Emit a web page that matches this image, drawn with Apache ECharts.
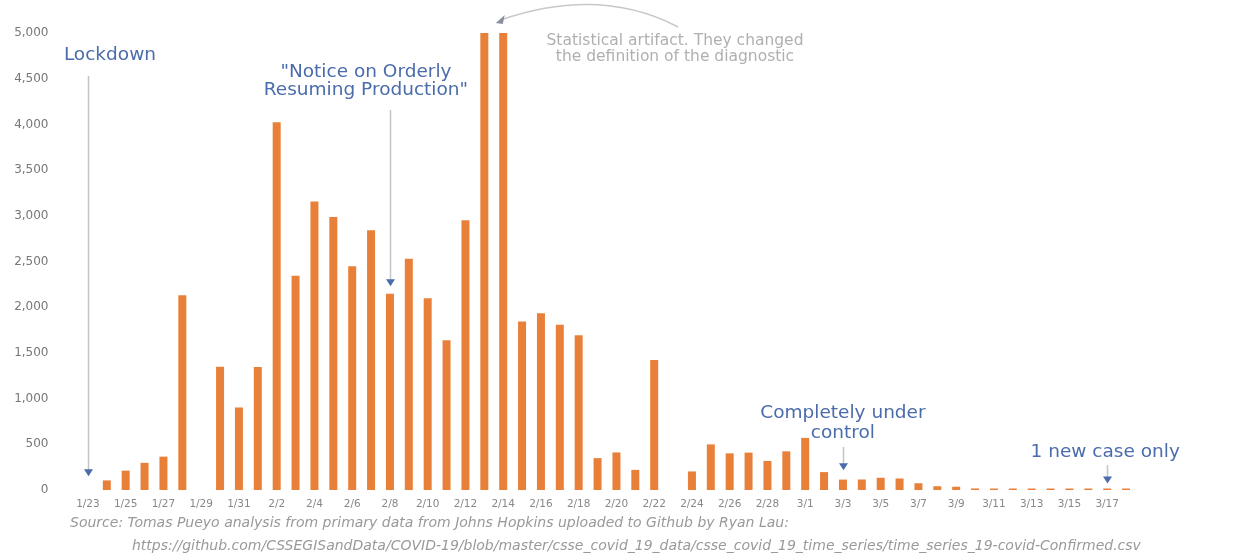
<!DOCTYPE html>
<html>
<head>
<meta charset="utf-8">
<script src="https://cdn.jsdelivr.net/npm/echarts@6/dist/echarts.min.js"></script>
<style>
html,body{margin:0;padding:0;background:#fff;}
#chart{width:1250px;height:560px;}
</style>
</head>
<body>
<div id="chart"></div>
<script>
// Daily new confirmed cases (Hubei), 1/23 .. 3/18
var categories = ['1/23','1/24','1/25','1/26','1/27','1/28','1/29','1/30','1/31',
  '2/1','2/2','2/3','2/4','2/5','2/6','2/7','2/8','2/9','2/10','2/11','2/12','2/13','2/14',
  '2/15','2/16','2/17','2/18','2/19','2/20','2/21','2/22','2/23','2/24','2/25','2/26','2/27','2/28','2/29',
  '3/1','3/2','3/3','3/4','3/5','3/6','3/7','3/8','3/9','3/10','3/11','3/12','3/13','3/14','3/15','3/16','3/17','3/18'];
var newCases = [0,105,212,297,365,2131,0,1349,903,
  1347,4024,2345,3156,2987,2447,2841,2147,2531,2097,1638,2950,5000,5000,
  1843,1933,1807,1693,349,411,220,1422,0,203,499,401,409,318,423,
  570,196,114,115,134,126,74,41,36,17,13,8,5,4,4,4,1,1];
var yTicks = [0,500,1000,1500,2000,2500,3000,3500,4000,4500,5000];

var chart = echarts.init(document.getElementById('chart'), null, {renderer:'canvas'});
var FONT = 'DejaVu Sans';
var BLUE = '#4a6cab';
var ARROW_LINE = '#c4c4c4';

var option = {
  animation: false,
  backgroundColor: '#fff',
  grid: {left: 78.5, right: 114.5, top: 33, bottom: 70, containLabel: false},
  xAxis: {
    type: 'category',
    data: categories,
    axisLine: {show: false},
    axisTick: {show: false},
    axisLabel: {interval: 1, color: '#888', fontSize: 10.5, fontFamily: FONT, margin: 9}
  },
  yAxis: {
    type: 'value',
    min: yTicks[0], max: yTicks[yTicks.length-1], interval: yTicks[1]-yTicks[0],
    splitLine: {show: false},
    axisLine: {show: false},
    axisTick: {show: false},
    axisLabel: {color: '#777', fontSize: 12, fontFamily: FONT, margin: 30,
      formatter: function(v){ return v.toLocaleString('en-US'); }}
  },
  series: [{
    type: 'bar',
    data: newCases.map(function(v){ return v === 0 ? '-' : v; }),
    barWidth: 8,
    barMinHeight: 1.5,
    itemStyle: {color: '#e8803a'}
  }]
};
chart.setOption(option);

function px(cat, val){ return chart.convertToPixel({gridIndex:0}, [cat, val]); }

function downArrow(cat, yTop, tipVal){
  var tip = px(cat, tipVal);
  var x = Math.round(tip[0]) + 0.5;
  return [
    {type:'line', shape:{x1:x, y1:yTop, x2:x, y2:tip[1]-4}, style:{stroke:ARROW_LINE, lineWidth:1.5}, z:10},
    {type:'polygon', shape:{points:[[x-4.5, tip[1]-7],[x+4.5, tip[1]-7],[x, tip[1]]]}, style:{fill:BLUE}, z:11}
  ];
}
function txt(x, y, s, size, color){
  return {type:'text', style:{text:s, x:x, y:y, fill:color, font:size+'px "'+FONT+'"', textAlign:'center', textVerticalAlign:'middle'}, z:12};
}

var g = [];
var ANN = 18.5;
// Lockdown
var pL = px('1/23', 0);
g = g.concat(downArrow('1/23', 76, 150));
g.push(txt(pL[0]+22, 55, 'Lockdown', ANN, BLUE));
// Notice
var pN = px('2/8', 0);
g = g.concat(downArrow('2/8', 110, 2230));
g.push(txt(pN[0]-24, 72, '"Notice on Orderly', ANN, BLUE));
g.push(txt(pN[0]-24, 90, 'Resuming Production"', ANN, BLUE));
// Statistical artifact
var a1 = px('2/13', 5000), a2 = px('2/14', 5000);
var hx = (a1[0]+a2[0])/2 + 3, hy = 22;
g.push({type:'bezierCurve', shape:{x1:678, y1:27, x2:hx+4, y2:hy-2, cpx1:600, cpy1:-14}, style:{stroke:'#c8c8c8', lineWidth:1.5, fill:null}, z:10});
g.push({type:'polygon', shape:{points:[[hx-1, hy+1],[hx+8, hy-7],[hx+6, hy+2]]}, style:{fill:'#8a8f9c'}, z:11});
g.push(txt(675, 41, 'Statistical artifact. They changed', 15.5, '#b0b0b0'));
g.push(txt(675, 57, 'the definition of the diagnostic', 15.5, '#b0b0b0'));
// Completely under control
var pC = px('3/3', 0);
g = g.concat(downArrow('3/3', 447, 215));
g.push(txt(pC[0], 413, 'Completely under', ANN, BLUE));
g.push(txt(pC[0], 433, 'control', ANN, BLUE));
// 1 new case only
var pO = px('3/17', 0);
g = g.concat(downArrow('3/17', 465, 70));
g.push(txt(pO[0]-2, 452, '1 new case only', ANN, BLUE));
// Source
var SRC = 'italic 14px "'+FONT+'"';
g.push({type:'text', style:{text:'Source: Tomas Pueyo analysis from primary data from Johns Hopkins uploaded to Github by Ryan Lau:', x:70, y:523, fill:'#999', font:SRC, textAlign:'left', textVerticalAlign:'middle'}, z:12});
g.push({type:'text', style:{text:'https://github.com/CSSEGISandData/COVID-19/blob/master/csse_covid_19_data/csse_covid_19_time_series/time_series_19-covid-Confirmed.csv', x:132, y:546, fill:'#999', font:SRC, textAlign:'left', textVerticalAlign:'middle'}, z:12});

chart.setOption({graphic: g});
</script>
</body>
</html>
